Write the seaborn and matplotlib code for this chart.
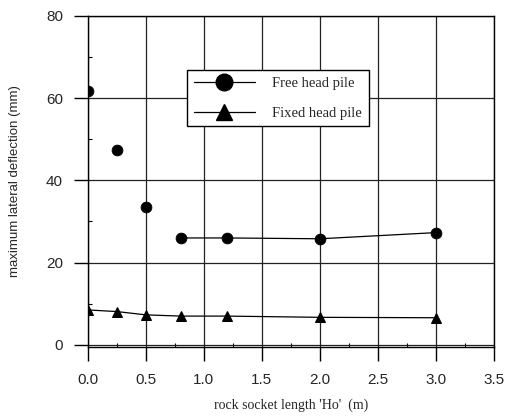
import matplotlib
matplotlib.use("Agg")
import matplotlib.pyplot as plt
from matplotlib.lines import Line2D
from matplotlib.ticker import MultipleLocator
import seaborn as sns
import pandas as pd

socket_len = [0.0, 0.25, 0.5, 0.8, 1.2, 2.0, 3.0]
free_head = [61.7, 47.4, 33.5, 26.0, 26.0, 25.8, 27.3]
fixed_head = [8.5, 8.1, 7.3, 7.0, 7.0, 6.7, 6.6]
free_line_from = 3  # free head series connected from x=0.8 onward

x_ticks = [0.0, 0.5, 1.0, 1.5, 2.0, 2.5, 3.0, 3.5]
y_ticks = [0, 20, 40, 60, 80]

sns.set_style("white")
plt.rcParams['font.family'] = ['Liberation Sans', 'DejaVu Sans']

df_free = pd.DataFrame({"x": socket_len, "y": free_head})
df_fixed = pd.DataFrame({"x": socket_len, "y": fixed_head})

fig = plt.figure(figsize=(5.14, 4.17), dpi=100)
ax = fig.add_axes([0.171, 0.168, 0.790, 0.794])

sns.lineplot(data=df_free.iloc[free_line_from:], x="x", y="y", ax=ax,
             color="black", linewidth=0.9, sort=False)
sns.scatterplot(data=df_free, x="x", y="y", ax=ax, color="black",
                marker="o", s=60, edgecolor="black", zorder=5)
sns.lineplot(data=df_fixed, x="x", y="y", ax=ax, color="black",
             linewidth=0.9, marker="^", markersize=7, markeredgecolor="black",
             sort=False)

ax.set_xlim(0, 3.5)
ax.set_ylim(-0.5, 80)
ax.set_xticks(x_ticks)
ax.set_xticklabels([f"{v:.1f}" for v in x_ticks])
ax.set_yticks(y_ticks)
ax.xaxis.set_minor_locator(MultipleLocator(0.25))
ax.yaxis.set_minor_locator(MultipleLocator(10))
ax.tick_params(axis="both", which="major", direction="out", length=10,
               width=1, color="black", labelsize=11)
ax.tick_params(axis="x", which="major", pad=9)
ax.tick_params(axis="y", which="major", pad=8)
ax.tick_params(axis="both", which="minor", direction="in", length=3,
               width=0.8, color="black")
ax.tick_params(left=True, bottom=True, which="both")
ax.grid(True, which="major", color="#222222", linewidth=0.9)
ax.set_axisbelow(True)
for sp in ax.spines.values():
    sp.set_color("black")
    sp.set_linewidth(1.0)

ax.set_xlabel("rock socket length 'Ho'  (m)", family="Liberation Serif",
              fontsize=10, labelpad=8)
ax.set_ylabel("maximum lateral deflection (mm)", fontsize=9.5, labelpad=18)

handles = [
    Line2D([0], [0], color="black", linewidth=0.9, marker="o", markersize=12),
    Line2D([0], [0], color="black", linewidth=0.9, marker="^", markersize=11),
]
leg = ax.legend(handles, ["Free head pile", "Fixed head pile"],
                loc="upper left", bbox_to_anchor=(0.226, 0.858),
                frameon=True, fancybox=False, handlelength=4.2,
                borderpad=0.45, labelspacing=1.15, handletextpad=1.2,
                prop={"family": "Liberation Serif", "size": 10.5})
leg.get_frame().set_edgecolor("black")
leg.get_frame().set_linewidth(1.0)
leg.get_frame().set_alpha(1)

fig.savefig("out.png", dpi=100)
